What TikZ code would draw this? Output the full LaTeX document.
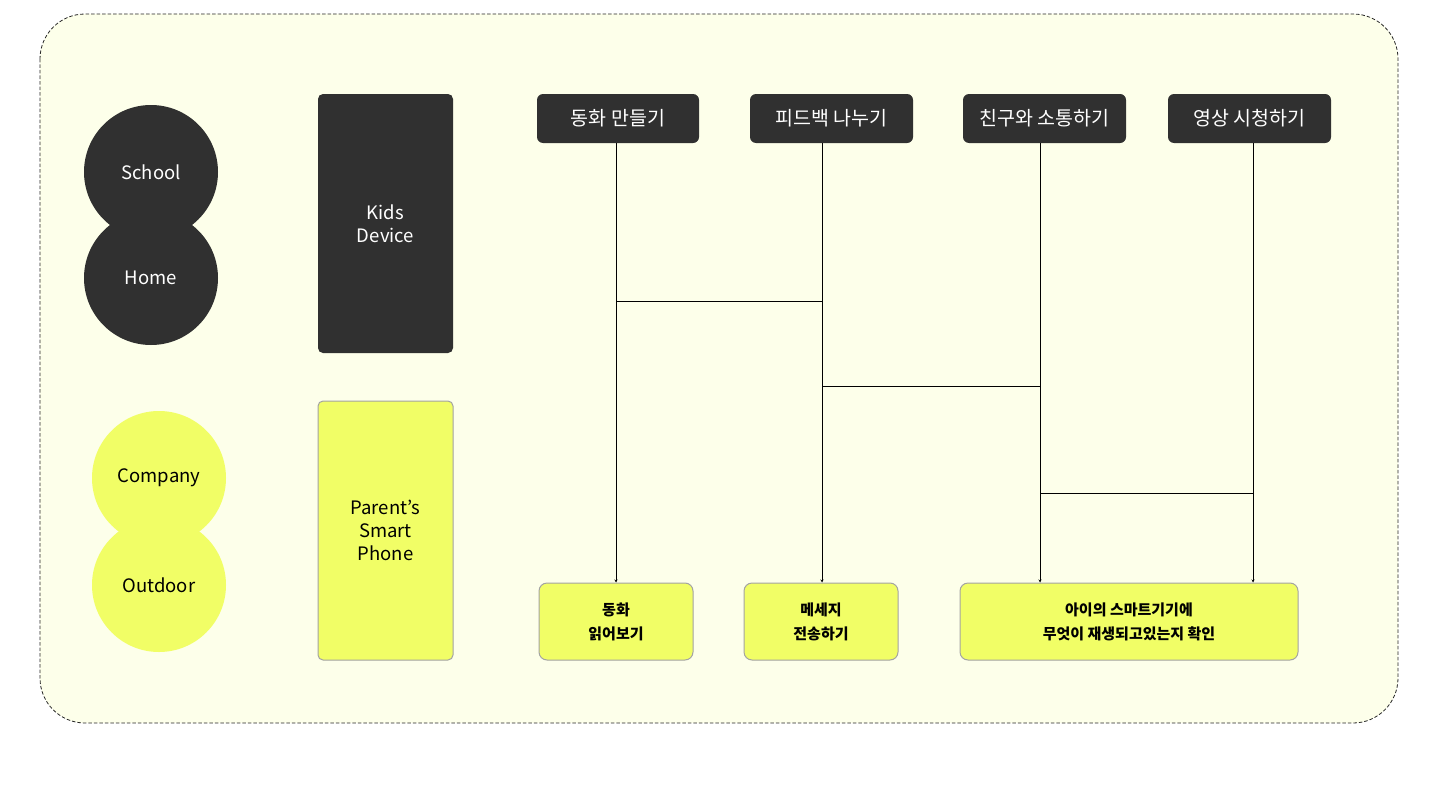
\documentclass[tikz,border=0pt]{standalone}
\usepackage{fontspec}
\setmainfont{Noto Sans CJK KR}
\usepackage{xcolor}
\usepackage{tikz}
\usetikzlibrary{arrows.meta,positioning}

\definecolor{inkdark}{HTML}{303030}
\definecolor{lemon}{HTML}{F1FE66}
\definecolor{paper}{HTML}{FDFFEA}
\definecolor{rim}{HTML}{A3A3A3}

\begin{document}
\begin{tikzpicture}[
  x=1pt,y=-1pt,
  font=\fontsize{18.5}{23}\selectfont,
  place/.style={circle,inner sep=0pt,minimum size=134pt,align=center},
  darkplace/.style={place,fill=inkdark,text=white},
  lightplace/.style={place,fill=lemon,text=black},
  device/.style={rectangle,rounded corners=5pt,align=center,minimum width=135pt,minimum height=259pt},
  task/.style={rectangle,rounded corners=6pt,fill=inkdark,text=white,align=center,minimum height=49pt,font=\fontsize{19.5}{24}\selectfont},
  result/.style={rectangle,rounded corners=8pt,fill=lemon,draw=rim,line width=1pt,align=center,minimum height=77pt,font=\fontsize{15}{24}\selectfont\bfseries},
  link/.style={draw=black,line width=0.8pt},
  arr/.style={link,-{Stealth[length=3pt,width=3pt]}}
]
\useasboundingbox (0,0) rectangle (1440,800);
\draw[dash pattern=on 3.5pt off 2pt,line width=0.8pt,draw=black!85,fill=paper,rounded corners=45pt] (40,14) rectangle (1398,723);

% places
\node[darkplace] (school) at (151,172) {School};
\node[darkplace] (home) at (151,278) {Home};
\node[lightplace] (company) at (159,478) {Company};
\node[lightplace] (outdoor) at (159,585) {Outdoor};

% devices
\node[device,fill=inkdark,text=white] (kids) at (385.5,223.5) {Kids\\Device};
\node[device,fill=lemon,draw=rim,line width=1pt] (parent) at (385.5,530.5) {Parent’s\\ Smart\\ Phone};

% tasks on the kids device
\node[task,minimum width=162pt] (make) at (618,118.5) {동화 만들기};
\node[task,minimum width=163pt] (feedback) at (831.5,118.5) {피드백 나누기};
\node[task,minimum width=163pt] (friend) at (1044.5,118.5) {친구와 소통하기};
\node[task,minimum width=163pt] (watch) at (1249.5,118.5) {영상 시청하기};

% results on the parent phone
\node[result,minimum width=154pt] (read) at (616,621.5) {동화\\읽어보기};
\node[result,minimum width=154pt] (message) at (821,621.5) {메세지\\전송하기};
\node[result,minimum width=338pt] (check) at (1129,621.5) {아이의 스마트기기에\\무엇이 재생되고있는지 확인};

\coordinate (makex) at (616,0);
\coordinate (feedx) at (822,0);
\coordinate (friendx) at (1040,0);
\coordinate (watchx) at (1253,0);

\draw[arr] (makex |- make.south) -- (makex |- read.north);
\draw[arr] (feedx |- feedback.south) -- (feedx |- message.north);
\draw[arr] (friendx |- friend.south) -- (friendx |- check.north);
\draw[arr] (watchx |- watch.south) -- (watchx |- check.north);

\draw[link] (makex |- 0,301) -- (feedx |- 0,301);
\draw[link] (feedx |- 0,386) -- (friendx |- 0,386);
\draw[link] (friendx |- 0,493) -- (watchx |- 0,493);
\end{tikzpicture}
\end{document}
